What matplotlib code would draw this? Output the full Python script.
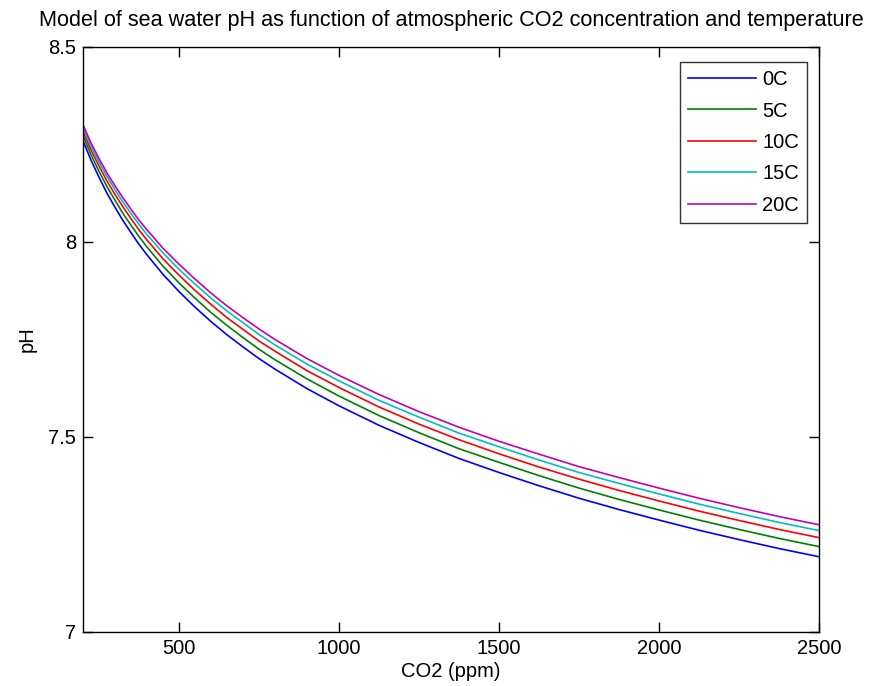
import numpy as np
import matplotlib
matplotlib.use("Agg")
import matplotlib.pyplot as plt

plt.rcParams['font.family'] = ['Liberation Sans', 'DejaVu Sans']

# CO2 concentration (ppm) and pH
co2 = [200, 225, 250, 275, 300, 325, 350, 375, 400, 450, 500, 550, 600,
       650, 700, 750, 800, 900, 1000, 1125, 1250, 1375, 1500, 1625, 1750,
       1875, 2000, 2125, 2250, 2375, 2500]
ph_0c = [8.260, 8.210, 8.166, 8.125, 8.089, 8.055, 8.024, 7.994, 7.967,
         7.917, 7.873, 7.833, 7.796, 7.762, 7.731, 7.701, 7.674, 7.624,
         7.580, 7.530, 7.486, 7.445, 7.409, 7.375, 7.343, 7.314, 7.287,
         7.261, 7.237, 7.214, 7.193]
ph_5c = [8.273, 8.224, 8.181, 8.142, 8.107, 8.073, 8.043, 8.014, 7.987,
         7.938, 7.895, 7.856, 7.819, 7.786, 7.755, 7.725, 7.698, 7.649,
         7.605, 7.555, 7.511, 7.470, 7.435, 7.401, 7.369, 7.340, 7.313,
         7.287, 7.263, 7.240, 7.219]
ph_10c = [8.284, 8.236, 8.195, 8.156, 8.122, 8.090, 8.060, 8.031, 8.005,
          7.957, 7.915, 7.876, 7.840, 7.806, 7.776, 7.746, 7.720, 7.670,
          7.627, 7.577, 7.533, 7.493, 7.457, 7.423, 7.392, 7.363, 7.336,
          7.310, 7.286, 7.263, 7.242]
ph_15c = [8.293, 8.246, 8.205, 8.168, 8.134, 8.102, 8.073, 8.045, 8.019,
          7.972, 7.930, 7.892, 7.856, 7.823, 7.793, 7.763, 7.736, 7.687,
          7.644, 7.594, 7.551, 7.510, 7.475, 7.441, 7.409, 7.381, 7.354,
          7.328, 7.304, 7.281, 7.260]
ph_20c = [8.300, 8.254, 8.214, 8.177, 8.144, 8.113, 8.084, 8.056, 8.031,
          7.984, 7.943, 7.905, 7.869, 7.836, 7.806, 7.777, 7.750, 7.701,
          7.658, 7.609, 7.565, 7.525, 7.489, 7.456, 7.424, 7.396, 7.369,
          7.343, 7.319, 7.296, 7.275]

labels = ['0C', '5C', '10C', '15C', '20C']
series = [ph_0c, ph_5c, ph_10c, ph_15c, ph_20c]
colors = ['#0000ff', '#008000', '#ff0000', '#00bfbf', '#bf00bf']

xticks = [500, 1000, 1500, 2000, 2500]
yticks = [7, 7.5, 8, 8.5]
ytick_labels = ['7', '7.5', '8', '8.5']

fig = plt.figure(figsize=(8.69, 6.86), dpi=100)
ax = fig.add_axes([83 / 869, 1 - 632 / 686, (819 - 83) / 869, (632 - 47) / 686])

for y, lab, c in zip(series, labels, colors):
    ax.plot(co2, y, color=c, lw=1.2, label=lab)

ax.set_xlim(200, 2500)
ax.set_ylim(7, 8.5)
ax.set_xticks(xticks)
ax.set_yticks(yticks)
ax.set_yticklabels(ytick_labels)
ax.tick_params(direction='in', length=7, width=1, top=True, right=True,
               labelsize=14.5, pad=5)
for sp in ax.spines.values():
    sp.set_linewidth(1)

ax.set_title('Model of sea water pH as function of atmospheric CO2 concentration and temperature',
             fontsize=15.6, pad=15)
ax.set_xlabel('CO2 (ppm)', fontsize=14.5, labelpad=3)
ax.set_ylabel('pH', fontsize=14.5, labelpad=8)

leg = ax.legend(loc='upper right', bbox_to_anchor=(0.9837, 0.9744), fontsize=14.5,
                frameon=True, fancybox=False, edgecolor='black',
                handlelength=3.4, handletextpad=0.3, labelspacing=0.62,
                borderpad=0.4, borderaxespad=0)
leg.get_frame().set_linewidth(1)

fig.savefig('out.png', dpi=100)
